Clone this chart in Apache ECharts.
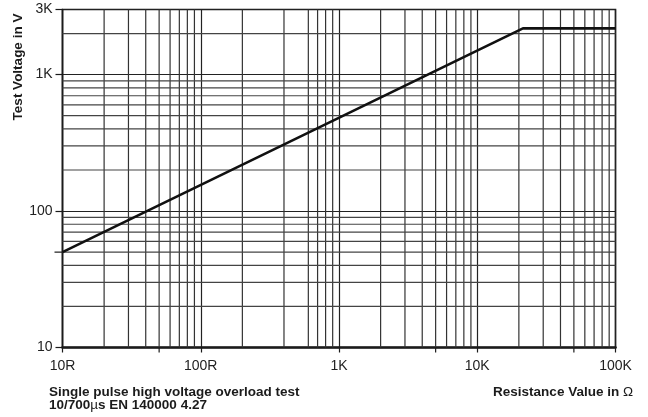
<!DOCTYPE html>
<html>
<head>
<meta charset="utf-8">
<script src="https://cdn.jsdelivr.net/npm/echarts@6/dist/echarts.min.js"></script>
<style>
  html, body { margin: 0; padding: 0; background: #fff; }
  #chart { width: 648px; height: 417px; }
</style>
</head>
<body>
<div id="chart"></div>
<script>
// Single pulse overload limit: test voltage versus resistance value
const resistance  = [10, 21400, 100000];
const testVoltage = [50, 2180, 2180];

// Axis ranges and tick values
const xRange = [10, 100000];
const yRange = [10, 3000];

// Intermediate grid lines inside each decade
const xMinorGrid = [20, 30, 40, 50, 60, 70, 80, 90,
                    200, 400, 600, 700, 800, 900,
                    2000, 3000, 4000, 5000, 6000, 7000, 8000, 9000,
                    20000, 30000, 40000, 50000, 60000, 70000, 80000, 90000];
const yMinorGrid = [20, 30, 40, 50, 60, 70, 80, 90,
                    200, 300, 400, 500, 600, 700, 800, 900,
                    2000];

// Extra half-decade ticks outside the plot frame
const xExtraTicks = [50, 5000, 50000];
const yExtraTicks = [50];

const FONT = "'Liberation Sans', Arial, Helvetica, sans-serif";
const INK = '#1b1b1b';
const GRID = '#333';

function fmtX(v) { return v >= 1000 ? (v / 1000) + 'K' : v + 'R'; }
function fmtY(v) { return v >= 1000 ? (v / 1000) + 'K' : String(v); }

const chart = echarts.init(document.getElementById('chart'), null, { renderer: 'canvas' });

function vLine(params, api) {
  const x = api.value(0);
  const a = api.coord([x, yRange[0]]);
  const b = api.coord([x, yRange[1]]);
  return { type: 'line', shape: { x1: a[0], y1: a[1], x2: b[0], y2: b[1] },
           style: { stroke: GRID, lineWidth: 1.2 } };
}
function hLine(params, api) {
  const y = api.value(1);
  const a = api.coord([xRange[0], y]);
  const b = api.coord([xRange[1], y]);
  return { type: 'line', shape: { x1: a[0], y1: a[1], x2: b[0], y2: b[1] },
           style: { stroke: '#444', lineWidth: 1.2 } };
}
function xTick(params, api) {
  const a = api.coord([api.value(0), yRange[0]]);
  return { type: 'line', shape: { x1: a[0], y1: a[1], x2: a[0], y2: a[1] + 5 },
           style: { stroke: INK, lineWidth: 1.2 } };
}
function yTick(params, api) {
  const a = api.coord([xRange[0], api.value(1)]);
  return { type: 'line', shape: { x1: a[0] - 8, y1: a[1], x2: a[0], y2: a[1] },
           style: { stroke: INK, lineWidth: 1.2 } };
}

chart.setOption({
  animation: false,
  backgroundColor: '#fff',
  grid: {
    left: 62.5, right: 32.5, top: 9.5, bottom: 69.5,
    show: true, borderColor: INK, borderWidth: 1.6, backgroundColor: 'transparent'
  },
  xAxis: {
    type: 'log', logBase: 10, min: xRange[0], max: xRange[1],
    axisLine: { show: true, lineStyle: { color: INK, width: 2.6 } },
    axisTick: { show: true, inside: false, length: 5, lineStyle: { color: INK, width: 1.2 } },
    axisLabel: { formatter: fmtX, margin: 12, color: '#222', fontSize: 14, fontFamily: FONT },
    splitLine: { show: true, lineStyle: { color: '#222', width: 1.2 } },
    minorTick: { show: false }, minorSplitLine: { show: false }
  },
  yAxis: {
    type: 'log', logBase: 10, min: yRange[0], max: yRange[1],
    axisLine: { show: true, lineStyle: { color: INK, width: 1.4 } },
    axisTick: { show: true, inside: false, length: 7, lineStyle: { color: INK, width: 1.2 } },
    axisLabel: { formatter: fmtY, margin: 10, color: '#222', fontSize: 14, fontFamily: FONT,
                 showMaxLabel: true, showMinLabel: true },
    splitLine: { show: true, lineStyle: { color: '#222', width: 1.2 } },
    minorTick: { show: false }, minorSplitLine: { show: false }
  },
  graphic: [
    {
      type: 'text', x: 18, y: 67, rotation: Math.PI / 2,
      style: { text: 'Test Voltage in V', font: 'bold 13.5px ' + FONT, fill: INK,
               textAlign: 'center', textVerticalAlign: 'middle' }
    },
    {
      type: 'text', x: 49, y: 386,
      style: {
        text: '{b|Single pulse high voltage overload test}\n{b|10/700}{n|µ}{b|s EN 140000 4.27}',
        textVerticalAlign: 'top', textAlign: 'left', lineHeight: 13,
        rich: {
          b: { font: 'bold 13.5px ' + FONT, fill: INK, lineHeight: 13 },
          n: { font: '13.5px ' + FONT, fill: INK, lineHeight: 13 }
        }
      }
    },
    {
      type: 'text', x: 633, y: 386,
      style: {
        text: '{b|Resistance Value in }{n|Ω}',
        textVerticalAlign: 'top', textAlign: 'right', lineHeight: 13,
        rich: {
          b: { font: 'bold 13.5px ' + FONT, fill: INK, lineHeight: 13 },
          n: { font: '13.5px ' + FONT, fill: INK, lineHeight: 13 }
        }
      }
    }
  ],
  series: [
    { type: 'custom', silent: true, clip: false, z: 1,
      data: xMinorGrid.map(v => [v, yRange[0]]), renderItem: vLine },
    { type: 'custom', silent: true, clip: false, z: 1,
      data: yMinorGrid.map(v => [xRange[0], v]), renderItem: hLine },
    { type: 'custom', silent: true, clip: false, z: 3,
      data: xExtraTicks.map(v => [v, yRange[0]]), renderItem: xTick },
    { type: 'custom', silent: true, clip: false, z: 3,
      data: yExtraTicks.map(v => [xRange[0], v]), renderItem: yTick },
    {
      type: 'line', z: 5, symbol: 'none', silent: true,
      data: resistance.map((r, i) => [r, testVoltage[i]]),
      lineStyle: { color: '#111', width: 2.6 }
    }
  ]
});
</script>
</body>
</html>
